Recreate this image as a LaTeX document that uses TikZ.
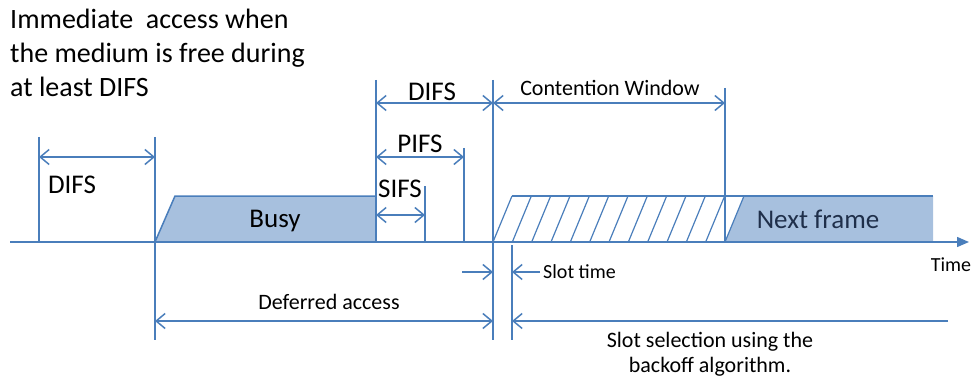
\documentclass[tikz,border=0pt]{standalone}
\usepackage{fontspec}
\setmainfont{Carlito}
\usetikzlibrary{arrows.meta}
\definecolor{lblue}{HTML}{4A7EBB}
\definecolor{fblue}{HTML}{A7C0DE}
\definecolor{navy}{HTML}{1F2F4A}
\tikzset{
  ln/.style={draw=lblue, line width=1.5pt},
  dim/.style={ln, {Straight Barb[length=9pt,width=15pt,line width=1.5pt]}-{Straight Barb[length=9pt,width=15pt,line width=1.5pt]}},
  dimr/.style={ln, -{Straight Barb[length=9pt,width=15pt,line width=1.5pt]}},
  big/.style={font=\fontsize{27}{33}\selectfont, text=black, inner sep=0pt},
  mid/.style={font=\fontsize{22}{26}\selectfont, text=black, inner sep=0pt},
  small/.style={font=\fontsize{20}{25}\selectfont, text=black, inner sep=0pt},
}
\begin{document}
\begin{tikzpicture}[x=1pt,y=-1pt]
\useasboundingbox (0,0) rectangle (972,377);
% key coordinates
\coordinate (a0) at (10,242);
\coordinate (a1) at (969,242);
% boxes
\fill[fblue] (155,242) -- (175,196) -- (376,196) -- (376,242) -- cycle;
\draw[ln] (155,242) -- (175,196) -- (376,196);
\fill[fblue] (725,242) -- (744,196) -- (933,196) -- (933,242) -- cycle;
\draw[ln] (512,196) -- (933,196);
\foreach \i in {0,...,12} {
  \draw[ln, line width=1.2pt] ({493+\i*19.333},242) -- ({512+\i*19.333},196);
}
% axis
\draw[ln, -{Triangle[length=12pt,width=10pt]}] (a0) -- (a1);
% verticals
\coordinate (v1t) at (39,137);   \coordinate (v1b) at (39,242);
\coordinate (v2t) at (155,137);  \coordinate (v2b) at (155,340);
\coordinate (v3t) at (376,80);   \coordinate (v3b) at (376,242);
\coordinate (v4t) at (425,186);  \coordinate (v4b) at (425,242);
\coordinate (v5t) at (464,148);  \coordinate (v5b) at (464,242);
\coordinate (v6t) at (493,80);   \coordinate (v6b) at (493,340);
\coordinate (v7t) at (512,245);  \coordinate (v7b) at (512,340);
\coordinate (v8t) at (725,88);   \coordinate (v8b) at (725,242);
\foreach \v in {1,...,8} { \draw[ln] (v\v t) -- (v\v b); }
% dimension arrows
\coordinate (d1l) at (39,157);  \coordinate (d1r) at (155,157);
\draw[dim] (d1l) -- (d1r);
\coordinate (d2l) at (376,103); \coordinate (d2r) at (493,103);
\draw[dim] (d2l) -- (d2r);
\coordinate (d3l) at (376,157); \coordinate (d3r) at (464,157);
\draw[dim] (d3l) -- (d3r);
\coordinate (d4l) at (376,215); \coordinate (d4r) at (425,215);
\draw[dim] (d4l) -- (d4r);
\coordinate (d5l) at (493,103); \coordinate (d5r) at (725,103);
\draw[dim] (d5l) -- (d5r);
\coordinate (d6l) at (155,321); \coordinate (d6r) at (493,321);
\draw[dim] (d6l) -- (d6r);
\coordinate (s1a) at (462,272); \coordinate (s1b) at (493,272);
\draw[dimr] (s1a) -- (s1b);
\coordinate (s2a) at (540,272); \coordinate (s2b) at (512,272);
\draw[dimr] (s2a) -- (s2b);
\coordinate (s3a) at (948,321); \coordinate (s3b) at (512,321);
\draw[dimr] (s3a) -- (s3b);
% labels
\node[big, font=\fontsize{28}{34}\selectfont, anchor=north west, align=left] (intro) at (10,9) {Immediate\ \ access when\\the medium is free during\\at least DIFS};
\node[big] (difs1) at (72,185) {DIFS};
\node[big] (busy) at (275,221) {Busy};
\node[big] (difs2) at (432,92) {DIFS};
\node[big] (pifs) at (420,144) {PIFS};
\node[big] (sifs) at (400,189) {SIFS};
\node[mid] (cw) at (610,88) {Contention Window};
\node[big, text=navy] (next) at (818,219) {Next frame};
\node[small, anchor=west] (slot) at (543,272) {Slot time};
\node[small] (time) at (951,265) {Time};
\node[mid] (def) at (329,302) {Deferred access};
\node[mid, font=\fontsize{22}{25}\selectfont, align=center] (sel) at (710,354) {Slot selection using the\\backoff algorithm.};
\end{tikzpicture}
\end{document}
